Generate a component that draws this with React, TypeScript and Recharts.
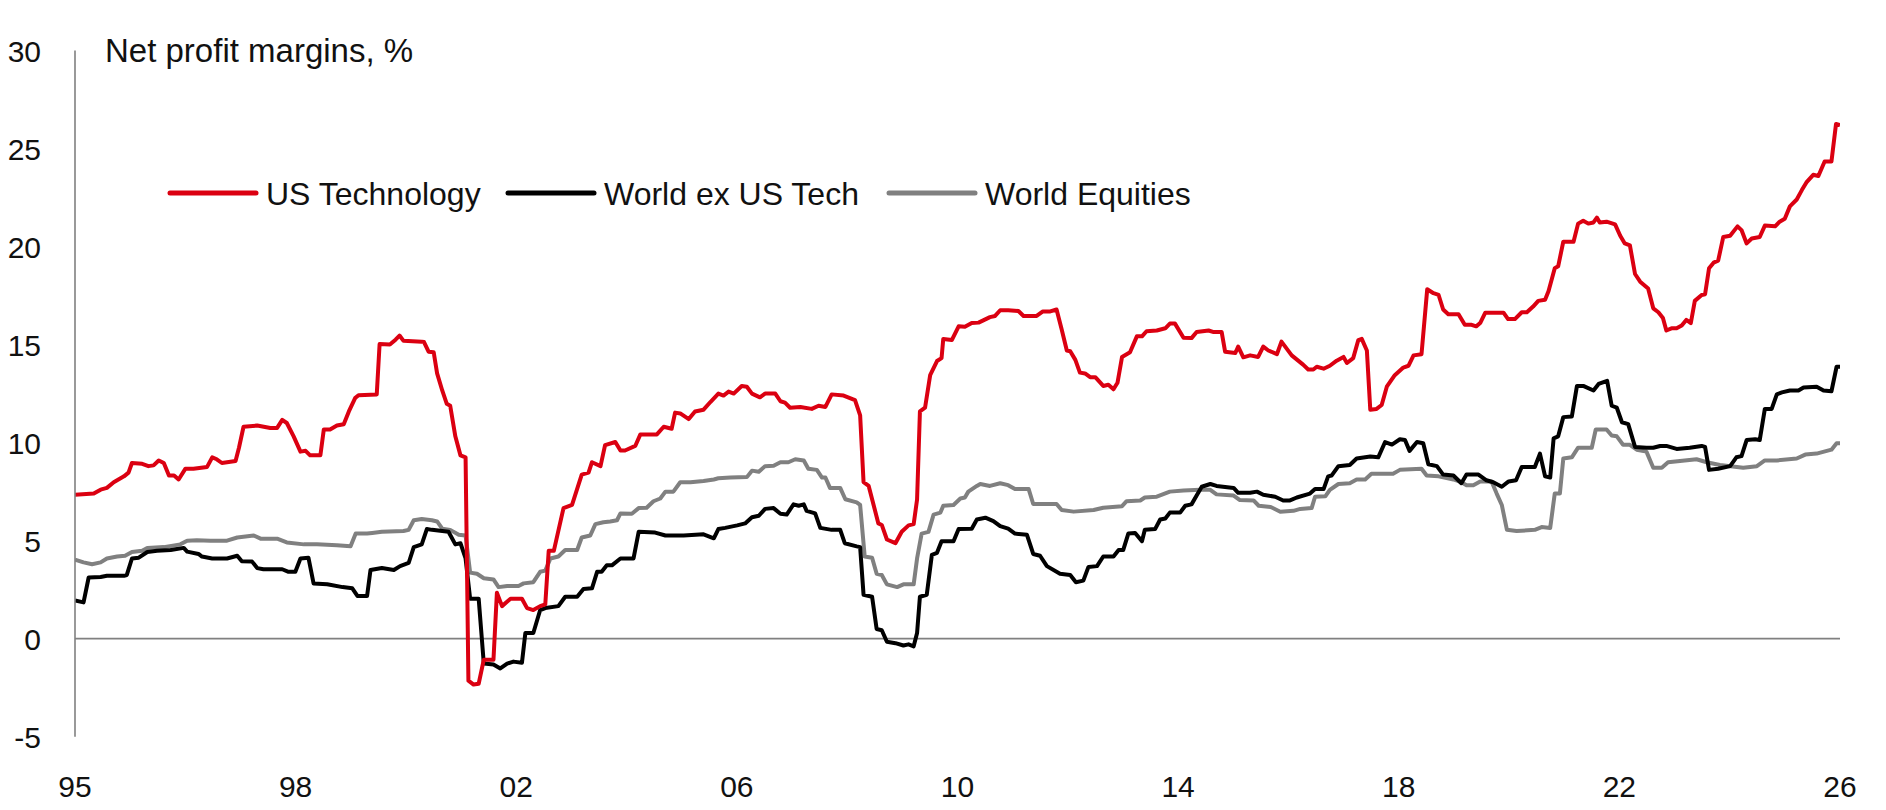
import { LineChart, Line, XAxis, YAxis, ReferenceLine } from 'recharts'

// net profit margins, % : [decimal year, value]
const usTechnology: [number, number][] = [
  [1995.0, 7.34], [1995.33, 7.4], [1995.45, 7.6], [1995.56, 7.69], [1995.68, 7.98], [1995.86, 8.28], [1995.94, 8.47],
  [1996.0, 8.96], [1996.18, 8.92], [1996.29, 8.8], [1996.38, 8.84], [1996.47, 9.09], [1996.56, 8.96], [1996.65, 8.32],
  [1996.74, 8.32], [1996.82, 8.12], [1996.94, 8.67], [1997.08, 8.67], [1997.32, 8.76], [1997.41, 9.25], [1997.49, 9.15],
  [1997.58, 8.96], [1997.82, 9.06], [1997.88, 9.74], [1997.96, 10.81], [1998.2, 10.87], [1998.43, 10.75], [1998.55, 10.75],
  [1998.64, 11.16], [1998.72, 11.0], [1998.84, 10.32], [1998.96, 9.54], [1999.05, 9.58], [1999.13, 9.35], [1999.31, 9.35],
  [1999.37, 10.67], [1999.48, 10.67], [1999.6, 10.87], [1999.72, 10.94], [1999.81, 11.59], [1999.92, 12.27], [1999.98, 12.42],
  [2000.3, 12.46], [2000.35, 15.03], [2000.53, 15.0], [2000.63, 15.25], [2000.7, 15.46], [2000.77, 15.19], [2001.09, 15.15],
  [2001.13, 15.13], [2001.21, 14.64], [2001.3, 14.61], [2001.36, 13.53], [2001.45, 12.66], [2001.53, 11.98], [2001.59, 11.88],
  [2001.68, 10.32], [2001.77, 9.35], [2001.86, 9.25], [2001.91, -2.14], [2002.0, -2.34], [2002.09, -2.3], [2002.18, -1.07],
  [2002.35, -1.07], [2002.41, 2.34], [2002.5, 1.66], [2002.65, 2.04], [2002.85, 2.04], [2002.94, 1.56], [2003.05, 1.46],
  [2003.17, 1.66], [2003.26, 1.75], [2003.32, 4.48], [2003.41, 4.48], [2003.58, 6.66], [2003.73, 6.82], [2003.9, 8.37],
  [2004.02, 8.47], [2004.08, 9.0], [2004.23, 8.8], [2004.31, 9.87], [2004.49, 10.03], [2004.58, 9.6], [2004.66, 9.6],
  [2004.84, 9.83], [2004.93, 10.42], [2005.22, 10.42], [2005.34, 10.81], [2005.48, 10.71], [2005.54, 11.53], [2005.63, 11.49],
  [2005.78, 11.2], [2005.89, 11.59], [2006.04, 11.68], [2006.16, 12.07], [2006.3, 12.5], [2006.39, 12.4], [2006.48, 12.6],
  [2006.57, 12.5], [2006.71, 12.89], [2006.8, 12.85], [2006.89, 12.5], [2007.03, 12.31], [2007.12, 12.5], [2007.3, 12.5],
  [2007.39, 12.11], [2007.47, 12.04], [2007.56, 11.78], [2007.74, 11.82], [2007.94, 11.72], [2008.06, 11.88], [2008.18, 11.82],
  [2008.29, 12.46], [2008.5, 12.4], [2008.7, 12.17], [2008.79, 11.39], [2008.85, 7.98], [2008.94, 7.79], [2009.11, 5.88],
  [2009.17, 5.8], [2009.26, 5.06], [2009.41, 4.87], [2009.52, 5.45], [2009.64, 5.78], [2009.73, 5.84], [2009.79, 7.1],
  [2009.84, 11.59], [2009.93, 11.78], [2010.02, 13.44], [2010.14, 14.16], [2010.22, 14.31], [2010.25, 15.29], [2010.4, 15.23],
  [2010.52, 15.93], [2010.63, 15.91], [2010.75, 16.1], [2010.87, 16.12], [2011.07, 16.4], [2011.16, 16.46], [2011.25, 16.75],
  [2011.39, 16.75], [2011.57, 16.71], [2011.66, 16.46], [2011.89, 16.46], [2012.0, 16.69], [2012.13, 16.69], [2012.24, 16.79],
  [2012.33, 15.77], [2012.42, 14.7], [2012.48, 14.66], [2012.57, 14.22], [2012.65, 13.57], [2012.74, 13.53], [2012.83, 13.34],
  [2012.92, 13.34], [2013.06, 12.89], [2013.15, 12.95], [2013.24, 12.72], [2013.31, 13.05], [2013.39, 14.37], [2013.53, 14.61],
  [2013.65, 15.42], [2013.74, 15.42], [2013.82, 15.68], [2014.0, 15.72], [2014.15, 15.83], [2014.23, 16.07], [2014.32, 16.07],
  [2014.47, 15.35], [2014.61, 15.33], [2014.7, 15.64], [2014.91, 15.72], [2015.0, 15.64], [2015.14, 15.64], [2015.2, 14.64],
  [2015.38, 14.57], [2015.43, 14.9], [2015.52, 14.35], [2015.64, 14.45], [2015.78, 14.37], [2015.87, 14.9], [2015.96, 14.7],
  [2016.11, 14.51], [2016.19, 15.15], [2016.37, 14.45], [2016.57, 13.98], [2016.66, 13.73], [2016.75, 13.73], [2016.81, 13.87],
  [2016.93, 13.77], [2017.04, 13.92], [2017.16, 14.18], [2017.28, 14.37], [2017.34, 14.06], [2017.45, 14.31], [2017.54, 15.23],
  [2017.6, 15.29], [2017.69, 14.7], [2017.75, 11.68], [2017.86, 11.72], [2017.95, 11.92], [2018.04, 12.85], [2018.18, 13.44],
  [2018.33, 13.83], [2018.42, 13.92], [2018.51, 14.45], [2018.65, 14.51], [2018.75, 17.82], [2018.86, 17.62], [2018.95, 17.53],
  [2019.03, 16.79], [2019.12, 16.55], [2019.3, 16.55], [2019.41, 16.01], [2019.53, 16.01], [2019.61, 15.93], [2019.68, 16.1],
  [2019.77, 16.63], [2020.09, 16.63], [2020.17, 16.3], [2020.29, 16.3], [2020.41, 16.65], [2020.5, 16.65], [2020.61, 16.94],
  [2020.7, 17.23], [2020.82, 17.29], [2020.88, 17.72], [2020.99, 18.89], [2021.05, 18.99], [2021.14, 20.25], [2021.32, 20.25],
  [2021.4, 21.17], [2021.49, 21.32], [2021.58, 21.17], [2021.67, 21.23], [2021.73, 21.48], [2021.78, 21.23], [2021.9, 21.27],
  [2022.05, 21.13], [2022.14, 20.55], [2022.22, 20.16], [2022.31, 20.06], [2022.4, 18.6], [2022.49, 18.21], [2022.63, 17.86],
  [2022.72, 16.85], [2022.81, 16.65], [2022.89, 16.36], [2022.95, 15.72], [2023.04, 15.83], [2023.13, 15.83], [2023.22, 15.97],
  [2023.3, 16.26], [2023.38, 16.1], [2023.45, 17.23], [2023.57, 17.53], [2023.63, 17.57], [2023.7, 18.89], [2023.78, 19.18],
  [2023.86, 19.28], [2023.95, 20.49], [2024.07, 20.55], [2024.2, 21.03], [2024.27, 20.84], [2024.36, 20.16], [2024.45, 20.41],
  [2024.59, 20.49], [2024.68, 21.07], [2024.86, 21.03], [2024.94, 21.27], [2025.03, 21.42], [2025.12, 22.05], [2025.24, 22.4],
  [2025.33, 22.88], [2025.41, 23.27], [2025.53, 23.66], [2025.62, 23.6], [2025.73, 24.34], [2025.85, 24.34], [2025.93, 26.25],
  [2026.0, 26.19],
]

const worldExUsTech: [number, number][] = [
  [1995.0, 1.95], [1995.15, 1.85], [1995.24, 3.12], [1995.45, 3.15], [1995.56, 3.21], [1995.86, 3.21], [1995.91, 3.25],
  [1996.0, 4.09], [1996.12, 4.13], [1996.27, 4.42], [1996.44, 4.48], [1996.68, 4.52], [1996.91, 4.63], [1996.97, 4.44],
  [1997.17, 4.32], [1997.23, 4.19], [1997.41, 4.09], [1997.67, 4.09], [1997.85, 4.23], [1997.93, 3.95], [1998.11, 3.93],
  [1998.2, 3.6], [1998.31, 3.54], [1998.64, 3.54], [1998.75, 3.41], [1998.87, 3.41], [1998.96, 4.09], [1999.1, 4.13],
  [1999.19, 2.82], [1999.43, 2.78], [1999.7, 2.63], [1999.87, 2.57], [1999.96, 2.18], [2000.13, 2.18], [2000.19, 3.5],
  [2000.39, 3.6], [2000.6, 3.5], [2000.71, 3.7], [2000.86, 3.86], [2000.95, 4.67], [2001.09, 4.81], [2001.18, 5.59],
  [2001.27, 5.55], [2001.56, 5.45], [2001.68, 4.81], [2001.77, 4.87], [2001.86, 4.09], [2001.94, 2.04], [2002.09, 2.04],
  [2002.18, -1.27], [2002.35, -1.32], [2002.47, -1.52], [2002.59, -1.27], [2002.7, -1.17], [2002.85, -1.23], [2002.91, 0.29],
  [2003.05, 0.29], [2003.17, 1.46], [2003.26, 1.56], [2003.49, 1.66], [2003.61, 2.14], [2003.82, 2.14], [2003.93, 2.53],
  [2004.08, 2.57], [2004.17, 3.41], [2004.25, 3.41], [2004.34, 3.74], [2004.43, 3.74], [2004.58, 4.09], [2004.81, 4.09],
  [2004.9, 5.45], [2005.19, 5.41], [2005.37, 5.26], [2005.69, 5.26], [2006.04, 5.32], [2006.22, 5.12], [2006.3, 5.59],
  [2006.42, 5.65], [2006.63, 5.78], [2006.77, 5.88], [2006.89, 6.19], [2007.01, 6.27], [2007.12, 6.62], [2007.27, 6.66],
  [2007.39, 6.37], [2007.5, 6.33], [2007.62, 6.85], [2007.71, 6.78], [2007.8, 6.85], [2007.85, 6.52], [2008.0, 6.39],
  [2008.09, 5.65], [2008.29, 5.55], [2008.44, 5.55], [2008.52, 4.87], [2008.73, 4.71], [2008.79, 4.67], [2008.85, 2.24],
  [2009.0, 2.14], [2009.08, 0.49], [2009.17, 0.43], [2009.26, -0.16], [2009.41, -0.23], [2009.55, -0.35], [2009.64, -0.29],
  [2009.73, -0.39], [2009.79, 0.29], [2009.84, 2.14], [2009.96, 2.24], [2010.05, 4.28], [2010.14, 4.38], [2010.22, 4.97],
  [2010.43, 4.97], [2010.52, 5.59], [2010.75, 5.61], [2010.84, 6.08], [2010.99, 6.17], [2011.13, 6.0], [2011.25, 5.74],
  [2011.39, 5.61], [2011.51, 5.36], [2011.72, 5.3], [2011.83, 4.32], [2011.95, 4.23], [2012.07, 3.7], [2012.3, 3.31],
  [2012.48, 3.25], [2012.58, 2.88], [2012.71, 2.96], [2012.8, 3.66], [2012.95, 3.7], [2013.06, 4.19], [2013.24, 4.19],
  [2013.33, 4.52], [2013.41, 4.52], [2013.5, 5.36], [2013.62, 5.39], [2013.74, 4.97], [2013.79, 5.55], [2013.97, 5.59],
  [2014.06, 6.08], [2014.15, 6.13], [2014.23, 6.43], [2014.41, 6.43], [2014.5, 6.78], [2014.61, 6.85], [2014.7, 7.3],
  [2014.79, 7.75], [2014.94, 7.89], [2015.05, 7.79], [2015.35, 7.69], [2015.43, 7.44], [2015.64, 7.44], [2015.76, 7.5],
  [2015.87, 7.34], [2016.08, 7.24], [2016.22, 7.05], [2016.34, 7.05], [2016.46, 7.2], [2016.69, 7.4], [2016.78, 7.63],
  [2016.93, 7.63], [2017.01, 8.28], [2017.07, 8.32], [2017.19, 8.8], [2017.39, 8.86], [2017.51, 9.19], [2017.75, 9.29],
  [2017.89, 9.25], [2018.01, 10.03], [2018.13, 9.9], [2018.27, 10.17], [2018.36, 10.13], [2018.44, 9.58], [2018.57, 10.03],
  [2018.68, 9.97], [2018.77, 8.9], [2018.92, 8.8], [2019.03, 8.37], [2019.21, 8.32], [2019.35, 7.93], [2019.44, 8.37],
  [2019.65, 8.37], [2019.79, 8.08], [2019.91, 7.98], [2020.06, 7.75], [2020.18, 8.02], [2020.31, 8.08], [2020.41, 8.76],
  [2020.64, 8.76], [2020.73, 9.44], [2020.82, 8.28], [2020.91, 8.22], [2020.97, 10.22], [2021.05, 10.32], [2021.14, 11.3],
  [2021.29, 11.33], [2021.38, 12.89], [2021.49, 12.89], [2021.67, 12.66], [2021.76, 12.99], [2021.91, 13.15], [2021.99, 11.88],
  [2022.08, 11.78], [2022.17, 11.04], [2022.28, 10.94], [2022.4, 9.78], [2022.6, 9.74], [2022.72, 9.74], [2022.84, 9.83],
  [2022.95, 9.83], [2023.13, 9.68], [2023.36, 9.74], [2023.57, 9.83], [2023.63, 9.78], [2023.7, 8.61], [2023.86, 8.67],
  [2024.07, 8.8], [2024.18, 9.25], [2024.27, 9.31], [2024.36, 10.13], [2024.51, 10.17], [2024.59, 10.13], [2024.68, 11.72],
  [2024.8, 11.72], [2024.89, 12.46], [2024.98, 12.56], [2025.12, 12.66], [2025.27, 12.66], [2025.36, 12.81], [2025.59, 12.85],
  [2025.71, 12.66], [2025.85, 12.62], [2025.94, 13.87], [2026.0, 13.87],
]

const worldEquities: [number, number][] = [
  [1995.0, 4.03], [1995.15, 3.89], [1995.3, 3.8], [1995.45, 3.89], [1995.56, 4.09], [1995.74, 4.19], [1995.88, 4.23],
  [1996.0, 4.42], [1996.18, 4.48], [1996.27, 4.63], [1996.56, 4.67], [1996.85, 4.81], [1996.97, 5.0], [1997.14, 5.02],
  [1997.38, 5.0], [1997.67, 5.0], [1997.85, 5.16], [1998.14, 5.26], [1998.26, 5.1], [1998.55, 5.1], [1998.72, 4.91],
  [1999.02, 4.81], [1999.25, 4.81], [1999.6, 4.77], [1999.84, 4.71], [1999.93, 5.36], [2000.13, 5.36], [2000.22, 5.39],
  [2000.39, 5.45], [2000.77, 5.49], [2000.86, 5.55], [2000.95, 6.04], [2001.09, 6.1], [2001.27, 6.04], [2001.36, 5.98],
  [2001.45, 5.61], [2001.59, 5.55], [2001.74, 5.3], [2001.86, 5.26], [2001.94, 3.37], [2002.06, 3.31], [2002.18, 3.08],
  [2002.35, 3.02], [2002.44, 2.63], [2002.59, 2.69], [2002.79, 2.69], [2002.88, 2.82], [2003.05, 2.88], [2003.17, 3.41],
  [2003.26, 3.47], [2003.35, 4.09], [2003.49, 4.19], [2003.61, 4.52], [2003.82, 4.52], [2003.9, 5.16], [2004.05, 5.26],
  [2004.14, 5.84], [2004.28, 5.94], [2004.4, 5.98], [2004.52, 6.04], [2004.58, 6.39], [2004.78, 6.37], [2004.9, 6.66],
  [2005.04, 6.68], [2005.16, 7.01], [2005.28, 7.15], [2005.37, 7.5], [2005.51, 7.5], [2005.63, 7.98], [2005.81, 7.98],
  [2006.04, 8.04], [2006.22, 8.12], [2006.3, 8.18], [2006.51, 8.22], [2006.8, 8.24], [2006.89, 8.57], [2007.01, 8.51],
  [2007.12, 8.8], [2007.27, 8.82], [2007.39, 9.0], [2007.53, 9.0], [2007.65, 9.15], [2007.8, 9.09], [2007.88, 8.67],
  [2008.03, 8.61], [2008.12, 8.22], [2008.18, 8.22], [2008.26, 7.69], [2008.44, 7.69], [2008.53, 7.11], [2008.73, 6.95],
  [2008.79, 6.82], [2008.87, 4.19], [2009.0, 4.13], [2009.08, 3.31], [2009.17, 3.25], [2009.26, 2.77], [2009.44, 2.63],
  [2009.55, 2.77], [2009.73, 2.77], [2009.79, 4.09], [2009.87, 5.36], [2009.99, 5.45], [2010.08, 6.33], [2010.2, 6.43],
  [2010.25, 6.78], [2010.43, 6.82], [2010.55, 7.15], [2010.63, 7.2], [2010.69, 7.5], [2010.84, 7.79], [2010.9, 7.89],
  [2011.07, 7.79], [2011.25, 7.93], [2011.39, 7.83], [2011.51, 7.63], [2011.75, 7.63], [2011.83, 6.87], [2012.24, 6.87],
  [2012.33, 6.56], [2012.54, 6.48], [2012.89, 6.56], [2013.06, 6.68], [2013.39, 6.76], [2013.47, 7.01], [2013.71, 7.05],
  [2013.79, 7.2], [2014.0, 7.24], [2014.23, 7.5], [2014.47, 7.56], [2014.76, 7.59], [2014.94, 7.59], [2015.05, 7.36],
  [2015.35, 7.3], [2015.46, 7.07], [2015.7, 7.05], [2015.79, 6.78], [2016.0, 6.72], [2016.17, 6.47], [2016.4, 6.52],
  [2016.52, 6.62], [2016.72, 6.66], [2016.78, 7.24], [2016.96, 7.26], [2017.04, 7.59], [2017.19, 7.89], [2017.39, 7.93],
  [2017.51, 8.12], [2017.66, 8.12], [2017.77, 8.41], [2018.15, 8.41], [2018.27, 8.61], [2018.65, 8.67], [2018.74, 8.32],
  [2018.95, 8.28], [2019.21, 8.12], [2019.35, 7.98], [2019.44, 7.83], [2019.56, 7.83], [2019.68, 8.02], [2019.88, 8.02],
  [2019.97, 7.4], [2020.06, 6.82], [2020.15, 5.55], [2020.32, 5.49], [2020.64, 5.55], [2020.76, 5.69], [2020.91, 5.65],
  [2020.99, 7.4], [2021.08, 7.4], [2021.14, 9.19], [2021.29, 9.25], [2021.4, 9.74], [2021.64, 9.74], [2021.71, 10.67],
  [2021.9, 10.67], [2021.99, 10.36], [2022.08, 10.32], [2022.19, 9.89], [2022.31, 9.89], [2022.43, 9.64], [2022.6, 9.54],
  [2022.72, 8.72], [2022.87, 8.72], [2022.98, 9.0], [2023.19, 9.06], [2023.48, 9.15], [2023.66, 9.0], [2023.89, 8.86],
  [2024.3, 8.72], [2024.54, 8.8], [2024.68, 9.09], [2024.89, 9.09], [2025.24, 9.19], [2025.39, 9.39], [2025.59, 9.44],
  [2025.85, 9.64], [2025.94, 9.97], [2026.0, 9.97],
]

const xTickLabels = ['95', '98', '02', '06', '10', '14', '18', '22', '26']
const yTicks = [-5, 0, 5, 10, 15, 20, 25, 30]
const X_START = 1995
const X_END = 2026

const RED = '#DB0011'
const BLACK = '#000000'
const GREY = '#808080'
const FONT = '"Liberation Sans", Arial, sans-serif'

// evenly spaced ticks across the date range, labelled with the year they fall in
const xTicks = xTickLabels.map((_, i) => X_START + (i * (X_END - X_START)) / (xTickLabels.length - 1))

const toRows = (pts: [number, number][]) => pts.map(([t, v]) => ({ t, v }))

const XTick = ({ x, y, payload }: any) => {
    const i = xTicks.indexOf(payload.value)
    return (
        <text x={x} y={y + 60} textAnchor="middle" fontSize={30} fontFamily={FONT} fill="#111">
            {xTickLabels[i]}
        </text>
    )
}

const YTick = ({ x, y, payload }: any) => (
    <text x={x - 34} y={y + 11} textAnchor="end" fontSize={30} fontFamily={FONT} fill="#111">
        {payload.value}
    </text>
)

const legendItems = [
    { name: 'US Technology', color: RED, x: 170 },
    { name: 'World ex US Tech', color: BLACK, x: 508 },
    { name: 'World Equities', color: GREY, x: 889 },
]

export default function App() {
    return (
        <div style={{ position: 'absolute', left: 0, top: 0, width: 1886, height: 810, background: '#fff' }}>
            <LineChart width={1886} height={810} margin={{ top: 50.5, right: 46, left: 0, bottom: 0 }}>
                <XAxis
                    dataKey="t"
                    type="number"
                    domain={[X_START, X_END]}
                    ticks={xTicks}
                    allowDataOverflow
                    axisLine={false}
                    tickLine={false}
                    tickSize={0}
                    tickMargin={0}
                    height={73.3}
                    tick={<XTick />}
                    interval={0}
                />
                <YAxis
                    type="number"
                    domain={[-5, 30]}
                    ticks={yTicks}
                    width={75}
                    axisLine={{ stroke: GREY, strokeWidth: 1.6 }}
                    tickLine={false}
                    tickSize={0}
                    tickMargin={0}
                    tick={<YTick />}
                    interval={0}
                />
                <ReferenceLine y={0} stroke={GREY} strokeWidth={1.6} />
                <Line data={toRows(worldEquities)} dataKey="v" stroke={GREY} strokeWidth={4} dot={false} isAnimationActive={false} strokeLinejoin="round" />
                <Line data={toRows(worldExUsTech)} dataKey="v" stroke={BLACK} strokeWidth={4} dot={false} isAnimationActive={false} strokeLinejoin="round" />
                <Line data={toRows(usTechnology)} dataKey="v" stroke={RED} strokeWidth={4} dot={false} isAnimationActive={false} strokeLinejoin="round" />
            </LineChart>
            <svg width={1886} height={810} style={{ position: 'absolute', left: 0, top: 0, pointerEvents: 'none' }}>
                <text x={105} y={62} fontSize={33} fontFamily={FONT} fill="#111">Net profit margins, %</text>
                {legendItems.map((it) => (
                    <g key={it.name}>
                        <line x1={it.x} x2={it.x + 86} y1={193} y2={193} stroke={it.color} strokeWidth={5} strokeLinecap="round" />
                        <text x={it.x + 96} y={205} fontSize={32} fontFamily={FONT} fill="#111">{it.name}</text>
                    </g>
                ))}
            </svg>
        </div>
    )
}
